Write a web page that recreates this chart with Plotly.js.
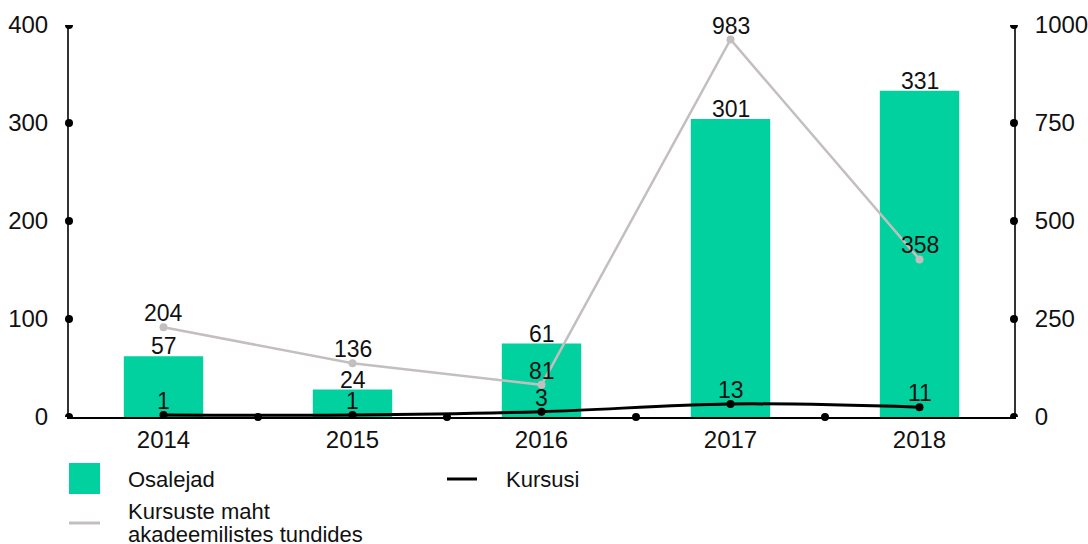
<!DOCTYPE html>
<html>
<head>
<meta charset="utf-8">
<script src="https://cdn.plot.ly/plotly-3.0.1.min.js"></script>
<style>html,body{margin:0;padding:0;background:#fff;}#chart{width:1088px;height:544px;}</style>
</head>
<body>
<div id="chart"></div>
<script>
// Categories
const years = ['2014', '2015', '2016', '2017', '2018'];
// Osalejad (bars, left axis) – heights as drawn, and their printed labels
const osalejad = [62, 28, 75, 304, 333];
const osalejadLabels = ['57', '24', '61', '301', '331'];
// Kursusi (black line, left axis)
const kursusi = [2, 2, 5.4, 13.3, 10];
const kursusiLabels = ['1', '1', '3', '13', '11'];
// Kursuste maht akadeemilistes tundides (grey line, right axis)
const maht = [229, 137, 82, 963, 402];
const mahtLabels = ['204', '136', '81', '983', '358'];
// Axis ticks
const leftTicks = [0, 100, 200, 300, 400];
const rightTicks = [0, 250, 500, 750, 1000];
const catBounds = [0.5, 1.5, 2.5, 3.5];
// Legend texts
const legendNames = ['Osalejad', 'Kursusi', 'Kursuste maht', 'akadeemilistes tundides'];

const GREEN = '#00D19F';
const GREY = '#C4BFBF';
const FONT = 'Liberation Sans, Arial, sans-serif';

const traces = [
  {
    type: 'bar', name: 'Osalejad', x: years, y: osalejad,
    marker: {color: GREEN}, showlegend: false, hoverinfo: 'none'
  },
  {
    type: 'scatter', mode: 'lines+markers', name: 'Kursuste maht akadeemilistes tundides',
    x: years, y: maht, yaxis: 'y2', cliponaxis: false,
    line: {color: GREY, width: 2.5}, marker: {color: GREY, size: 8},
    showlegend: false, hoverinfo: 'none'
  },
  {
    type: 'scatter', mode: 'lines+markers', name: 'Kursusi',
    x: years, y: kursusi, cliponaxis: false,
    line: {color: '#000', width: 3, shape: 'spline'}, marker: {color: '#000', size: 8},
    showlegend: false, hoverinfo: 'none'
  }
];

const labelFont = {size: 23, color: '#111', family: FONT};
const annotations = [];
// category axis: position i is the i-th category of `years`
const addLabels = (vals, labels, yref, shift) => vals.forEach((v, i) => annotations.push({
  text: labels[i], x: years.indexOf(years[i]), y: v, xref: 'x', yref: yref, xanchor: 'center', yanchor: 'bottom',
  yshift: shift, showarrow: false, font: labelFont
}));
addLabels(osalejad, osalejadLabels, 'y', -5);
addLabels(maht, mahtLabels, 'y2', -1);
addLabels(kursusi, kursusiLabels, 'y', -1);

const shapes = [];
const dot = (o) => Object.assign({type: 'circle', xsizemode: 'pixel', ysizemode: 'pixel',
  x0: -4, x1: 4, y0: -4, y1: 4, fillcolor: '#000', line: {width: 0}, layer: 'above'}, o);
leftTicks.forEach(v => shapes.push(dot({xref: 'paper', yref: 'y', xanchor: 0, yanchor: v})));
rightTicks.forEach(v => shapes.push(dot({xref: 'paper', yref: 'y2', xanchor: 1, yanchor: v})));
catBounds.forEach(v => shapes.push(dot({xref: 'x', yref: 'paper', xanchor: v, yanchor: 0})));

// Manual legend
const px = (p) => (p - 69) / 945;
const py = (p) => (417 - p) / 392;
shapes.push({type: 'rect', xref: 'paper', yref: 'paper', x0: px(69), x1: px(100), y0: py(463), y1: py(494),
  fillcolor: GREEN, line: {width: 0}});
shapes.push({type: 'line', xref: 'paper', yref: 'paper', x0: px(447), x1: px(477), y0: py(479), y1: py(479),
  line: {color: '#000', width: 3}});
shapes.push({type: 'line', xref: 'paper', yref: 'paper', x0: px(69), x1: px(100), y0: py(523), y1: py(523),
  line: {color: GREY, width: 3}});

const legFont = {size: 22, color: '#111', family: FONT};
const legAnn = (t, x, y) => ({text: t, xref: 'paper', yref: 'paper', x: px(x), y: py(y),
  xanchor: 'left', yanchor: 'middle', showarrow: false, font: legFont, borderpad: 0});
annotations.push(
  legAnn(legendNames[0], 127, 479),
  legAnn(legendNames[1], 505, 479),
  legAnn(legendNames[2], 127, 511),
  legAnn(legendNames[3], 127, 534)
);

const layout = {
  width: 1088, height: 544,
  margin: {l: 69, r: 74, t: 25, b: 127, pad: 0},
  paper_bgcolor: '#fff', plot_bgcolor: '#fff',
  font: {family: FONT, color: '#111'},
  bargap: 0.58,
  showlegend: false,
  xaxis: {
    type: 'category', range: [-0.5, 4.5], showline: true, linecolor: '#000', linewidth: 2,
    ticks: '', showgrid: false, zeroline: false, tickfont: {size: 24, color: '#111'}, fixedrange: true
  },
  yaxis: {
    range: [0, 400], tickvals: leftTicks, showline: true, linecolor: '#333', linewidth: 2,
    ticks: '', showgrid: false, zeroline: false, tickfont: {size: 24, color: '#111'},
    ticklabelstandoff: 14, fixedrange: true
  },
  yaxis2: {
    range: [0, 1000], tickvals: rightTicks, overlaying: 'y', side: 'right', showline: true,
    linecolor: '#333', linewidth: 2, ticks: '', showgrid: false, zeroline: false,
    tickfont: {size: 24, color: '#111'}, ticklabelstandoff: 14, fixedrange: true
  },
  shapes: shapes,
  annotations: annotations
};

Plotly.newPlot('chart', traces, layout, {staticPlot: true, displayModeBar: false});
</script>
</body>
</html>
